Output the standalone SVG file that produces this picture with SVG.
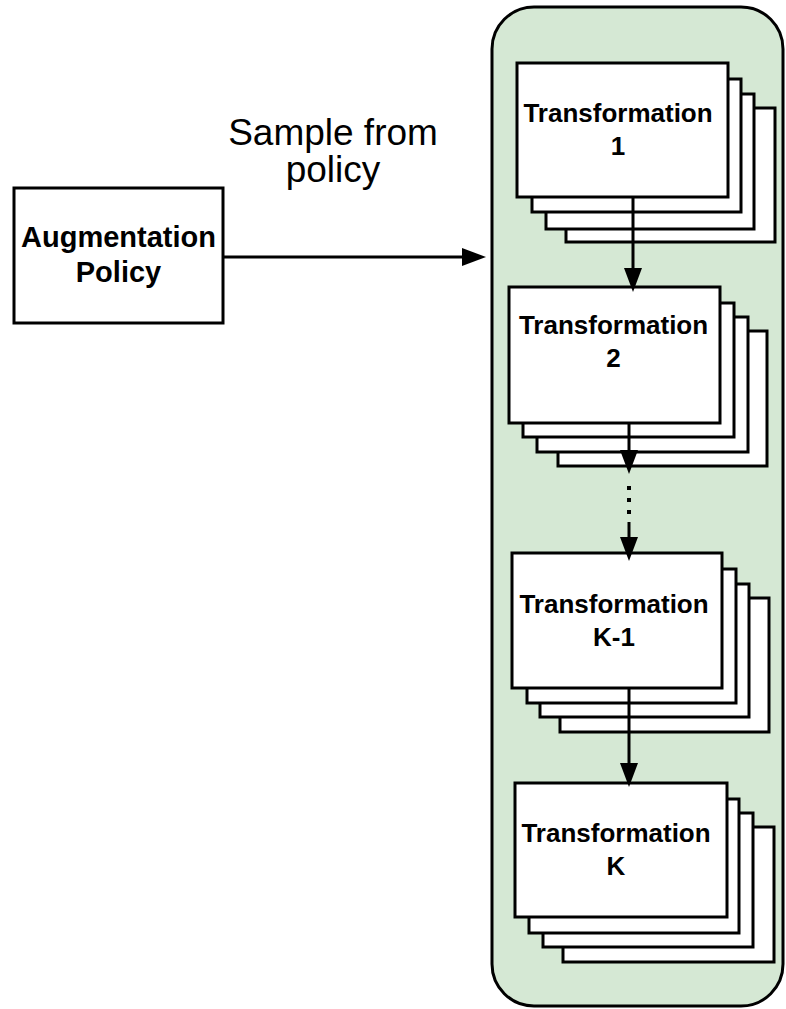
<svg xmlns="http://www.w3.org/2000/svg" width="786" height="1009" viewBox="0 0 786 1009">
<style>
.box{fill:#ffffff;stroke:#000000;stroke-width:3}
.cont{fill:#d5e8d4;stroke:#000000;stroke-width:3}
.lbl{font-family:"Liberation Sans",Arial,sans-serif;font-weight:bold;font-size:26px;fill:#000;text-anchor:middle}
.big{font-family:"Liberation Sans",Arial,sans-serif;font-size:37px;fill:#000;text-anchor:middle}
.edge{stroke:#000;stroke-width:3;fill:none}
</style>
<defs>
<marker id="arr" markerUnits="userSpaceOnUse" markerWidth="25" markerHeight="20" refX="0" refY="9" orient="auto" overflow="visible">
<path d="M0,0 L24,9 L0,18 Z" fill="#000"/>
</marker>
</defs>
<rect width="786" height="1009" fill="#ffffff"/>
<g id="container">
<rect class="cont" x="492" y="7" width="291" height="999" rx="42" ry="42"/>
</g>
<g id="augmentation-policy">
<rect class="box" x="14" y="188" width="209" height="135"/>
<text class="lbl" style="font-size:29px" x="118.5" y="247">Augmentation</text>
<text class="lbl" style="font-size:29px" x="118.5" y="282">Policy</text>
</g>
<g id="sample-label">
<text class="big" x="333" y="145">Sample from</text>
<text class="big" x="333" y="182">policy</text>
</g>
<g id="transformation-1">
<rect class="box" x="566" y="108" width="209" height="134"/>
<rect class="box" x="546" y="94" width="208" height="135"/>
<rect class="box" x="532" y="79" width="209" height="133"/>
<rect class="box" x="517" y="63" width="211" height="134"/>
<text class="lbl" x="618" y="122">Transformation</text>
<text class="lbl" x="618" y="155">1</text>
</g>
<g id="transformation-2">
<rect class="box" x="558" y="331" width="209" height="135"/>
<rect class="box" x="537" y="317" width="211" height="135"/>
<rect class="box" x="523" y="303" width="211" height="134"/>
<rect class="box" x="509" y="287" width="211" height="136"/>
<text class="lbl" x="613.5" y="334">Transformation</text>
<text class="lbl" x="613.5" y="367">2</text>
</g>
<g id="transformation-k-1">
<rect class="box" x="560" y="598" width="209" height="134"/>
<rect class="box" x="540" y="584" width="209" height="133"/>
<rect class="box" x="527" y="569" width="209" height="134"/>
<rect class="box" x="512" y="553" width="210" height="135"/>
<text class="lbl" x="614" y="613">Transformation</text>
<text class="lbl" x="614" y="646">K-1</text>
</g>
<g id="transformation-k">
<rect class="box" x="563" y="827" width="211" height="135"/>
<rect class="box" x="543" y="813" width="210" height="134"/>
<rect class="box" x="529" y="799" width="210" height="134"/>
<rect class="box" x="515" y="783" width="212" height="134"/>
<text class="lbl" x="616" y="842">Transformation</text>
<text class="lbl" x="616" y="875">K</text>
</g>
<g id="connectors">
<line class="edge" x1="223" y1="257" x2="462" y2="257" marker-end="url(#arr)"/>
<line class="edge" x1="633" y1="197" x2="633" y2="268" marker-end="url(#arr)"/>
<line class="edge" x1="629" y1="423" x2="629" y2="450" marker-end="url(#arr)"/>
<line class="edge" x1="629" y1="486" x2="629" y2="516" stroke-dasharray="4 8" style="stroke-width:4"/>
<line class="edge" x1="629" y1="522" x2="629" y2="537" marker-end="url(#arr)"/>
<line class="edge" x1="629" y1="688" x2="629" y2="763" marker-end="url(#arr)"/>
</g>
</svg>
